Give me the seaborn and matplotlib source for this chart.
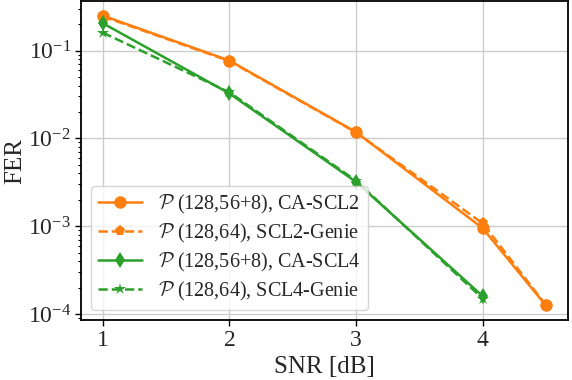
import matplotlib
matplotlib.use("Agg")
import pandas as pd
from matplotlib import pyplot as plt
import seaborn as sns

### values ###
snr_scl2 = [1, 2, 3, 4, 4.5]
fer_ca_scl2 = [0.25, 0.077, 0.0118, 0.00095, 0.000125]
fer_genie_scl2 = [0.245, 0.076, 0.0117, 0.00108, 0.000127]

snr_scl4 = [1, 2, 3, 4]
fer_ca_scl4 = [0.205, 0.0325, 0.0032, 0.00016]
fer_genie_scl4 = [0.16, 0.0335, 0.0033, 0.00015]

labels = [r"$\mathcal{P}$ (128,56+8), CA-SCL2",
          r"$\mathcal{P}$ (128,64), SCL2-Genie",
          r"$\mathcal{P}$ (128,56+8), CA-SCL4",
          r"$\mathcal{P}$ (128,64), SCL4-Genie"]

sns.set_style("whitegrid")
plt.rcParams['font.family'] = ['Liberation Serif', 'DejaVu Serif']
plt.rcParams['mathtext.fontset'] = 'custom'
plt.rcParams['mathtext.rm'] = 'Liberation Serif'
plt.rcParams['mathtext.it'] = 'Liberation Serif:italic'
plt.rcParams['mathtext.cal'] = 'cmsy10'

orange = '#ff7f0e'
green = '#2ca02c'

fig = plt.figure(figsize=(5.72, 3.8), dpi=100)
ax = fig.add_subplot(111)
fig.subplots_adjust(left=0.141, right=0.993, top=0.997, bottom=0.158)

series = [
    (snr_scl2, fer_ca_scl2, orange, '-', 'o', 9),
    (snr_scl2, fer_genie_scl2, orange, '--', 'p', 8),
    (snr_scl4, fer_ca_scl4, green, '-', 'd', 8),
    (snr_scl4, fer_genie_scl4, green, '--', '*', 9),
]
for (x, y, c, ls, m, ms), lab in zip(series, labels):
    sns.lineplot(x=x, y=y, ax=ax, color=c, linestyle=ls, marker=m,
                 markersize=ms, markeredgewidth=0, linewidth=1.8, label=lab)

ax.set_yscale('log')
ax.set_xticks([1, 2, 3, 4])
ax.set_xlabel('SNR [dB]', fontsize=18, labelpad=4)
ax.set_ylabel('FER', fontsize=18, labelpad=1)
ax.tick_params(axis='both', which='major', labelsize=17, length=4,
               width=1, color='black', direction='out', left=True, bottom=True,
               pad=3)
ax.tick_params(axis='y', which='minor', length=2.5, width=0.8,
               color='black', left=True)
ax.grid(True, which='major', color='#cccccc', linewidth=1)
ax.grid(False, which='minor')
for sp in ax.spines.values():
    sp.set_color('black')
    sp.set_linewidth(1.3)

ax.legend(loc='lower left', fontsize=14.5, framealpha=0.8,
          handlelength=2.2, borderpad=0.35, labelspacing=0.3,
          handletextpad=0.8)

plt.savefig('out.png', dpi=100)
